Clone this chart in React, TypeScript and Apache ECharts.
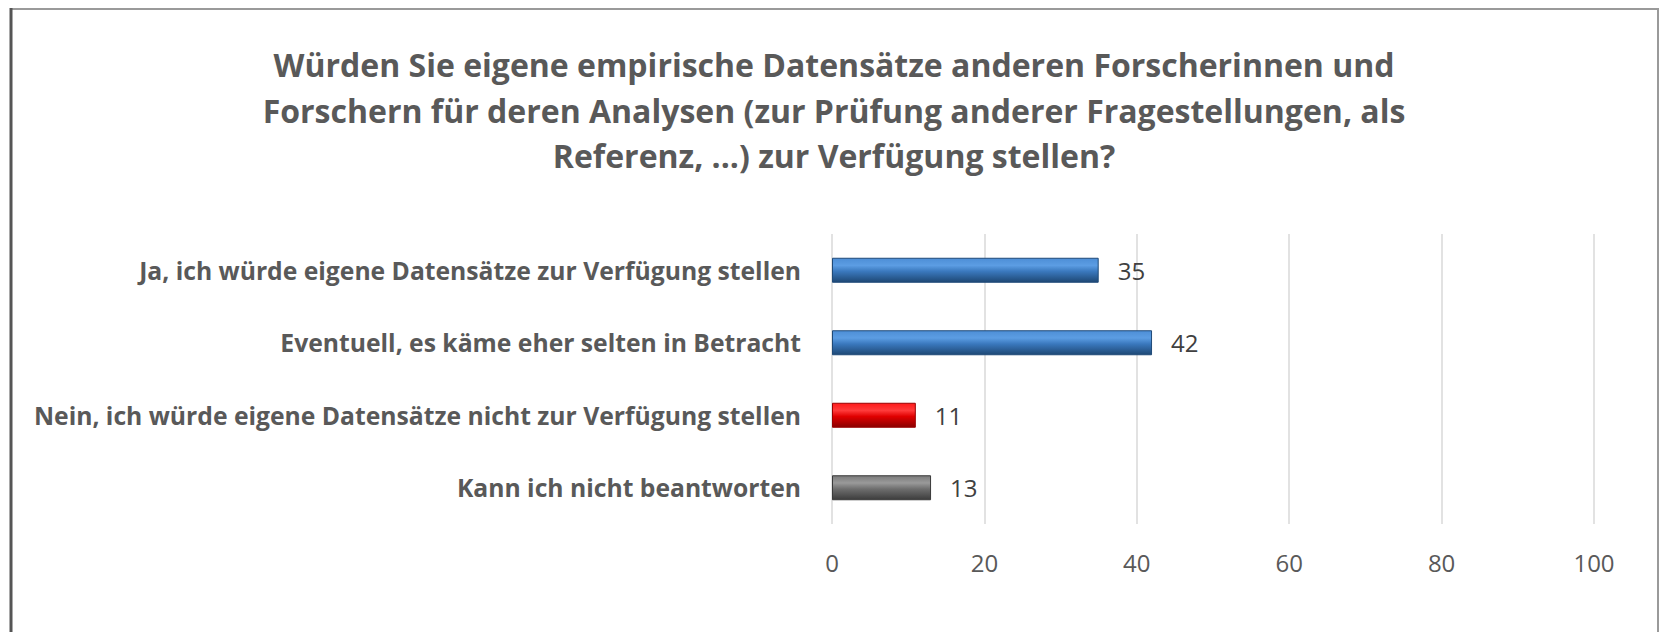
import React, { useEffect, useRef } from "react";
import * as echarts from "echarts";

const titleLines = [
  "Würden Sie eigene empirische Datensätze anderen Forscherinnen und",
  "Forschern für deren Analysen (zur Prüfung anderer Fragestellungen, als",
  "Referenz, ...) zur Verfügung stellen?",
];

const categories = [
  "Ja, ich würde eigene Datensätze zur Verfügung stellen",
  "Eventuell, es käme eher selten in Betracht",
  "Nein, ich würde eigene Datensätze nicht zur Verfügung stellen",
  "Kann ich nicht beantworten",
];

const values = [35, 42, 11, 13];

const axisMin = 0;
const axisMax = 100;
const axisInterval = 20;

const barPalettes = [
  ["#4d8ed6", "#5c9de3", "#3a78bd", "#1e4874", "#1f4a78"],
  ["#4d8ed6", "#5c9de3", "#3a78bd", "#1e4874", "#1f4a78"],
  ["#ff1a1a", "#ff3b3b", "#e00000", "#8a0000", "#9a0000"],
  ["#7a7a7a", "#9a9a9a", "#6e6e6e", "#3c3c3c", "#3a3a3a"],
];

const FONT = "'Open Sans', Lato, sans-serif";

export default function App() {
  const ref = useRef<HTMLDivElement>(null);
  useEffect(() => {
    if (!ref.current) return;
    const chart = echarts.init(ref.current, null, { renderer: "svg" });
    const data = values.map((v, i) => {
      const p = barPalettes[i];
      return {
        value: v,
        itemStyle: {
          color: new echarts.graphic.LinearGradient(0, 0, 0, 1, [
            { offset: 0, color: p[0] },
            { offset: 0.3, color: p[1] },
            { offset: 0.55, color: p[2] },
            { offset: 1, color: p[3] },
          ]),
          borderColor: p[4],
          borderWidth: 1,
        },
      };
    });
    chart.setOption({
      animation: false,
      backgroundColor: "#ffffff",
      title: {
        text: titleLines.join("\n"),
        left: 829,
        top: 37,
        textAlign: "center",
        textStyle: {
          fontFamily: FONT,
          fontWeight: "bold",
          fontSize: 32,
          lineHeight: 45.5,
          color: "#595959",
        },
      },
      grid: { left: 832, right: 66, top: 234, bottom: 108, containLabel: false },
      xAxis: {
        type: "value",
        min: axisMin,
        max: axisMax,
        interval: axisInterval,
        axisLine: { show: false },
        axisTick: { show: false },
        splitLine: { show: true, lineStyle: { color: "#d9d9d9", width: 1.5 } },
        axisLabel: {
          margin: 26,
          fontFamily: FONT,
          fontSize: 24,
          color: "#595959",
        },
      },
      yAxis: {
        type: "category",
        inverse: true,
        data: categories,
        axisLine: { show: false },
        axisTick: { show: false },
        axisLabel: {
          margin: 31,
          fontFamily: FONT,
          fontWeight: "bold",
          fontSize: 24.7,
          color: "#595959",
        },
      },
      series: [
        {
          type: "bar",
          data,
          barWidth: 25,
          label: {
            show: true,
            position: "right",
            distance: 19,
            fontFamily: FONT,
            fontSize: 24,
            color: "#404040",
          },
        },
      ],
      graphic: [
        {
          type: "rect",
          shape: { x: 11, y: 9, width: 1647, height: 640 },
          style: { fill: "none", stroke: "#9a9a9a", lineWidth: 2 },
          silent: true,
        },
        {
          type: "line",
          shape: { x1: 11, y1: 8, x2: 11, y2: 640 },
          style: { stroke: "#555555", lineWidth: 3 },
          silent: true,
        },
      ],
    });
    return () => chart.dispose();
  }, []);
  return (
    <div
      ref={ref}
      style={{ position: "fixed", left: 0, top: 0, width: 1660, height: 632 }}
    />
  );
}
